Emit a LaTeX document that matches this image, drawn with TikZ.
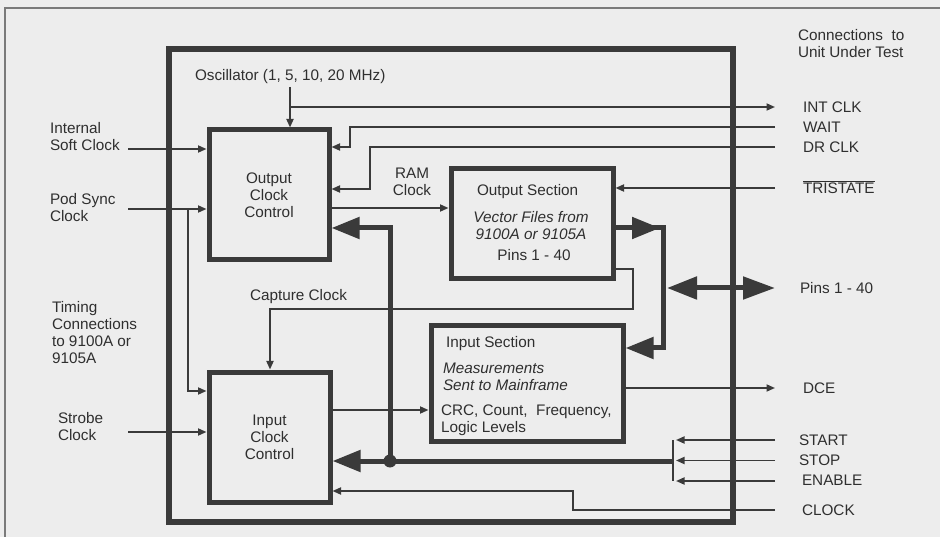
\documentclass[tikz,border=0pt]{standalone}
\usepackage{fontspec}
\setmainfont{Liberation Sans}
\usetikzlibrary{arrows.meta}
\definecolor{lc}{HTML}{3A3A3A}
\definecolor{tc}{HTML}{2F2F2F}
\definecolor{bgc}{HTML}{EDEDED}
\definecolor{fc}{HTML}{7A7A7A}
\begin{document}
\begin{tikzpicture}[x=1pt,y=-1pt,
  every node/.style={font=\fontsize{15.3}{17}\selectfont, text=tc, inner sep=0pt, outer sep=0pt},
  lblb/.style={anchor=base west},
  lbln/.style={anchor=north west, align=left},
  blk/.style={draw=lc, line width=5pt, inner sep=0pt, outer sep=2.5pt},
  thinln/.style={draw=lc, line width=1.8pt},
  tarr/.style={thinln, -{Triangle[length=8.5pt,width=7pt]}},
  thk/.style={draw=lc, line width=5pt},
  karr/.style={thk, -{Triangle[length=28pt,width=21pt]}},
]
\fill[bgc] (0,0) rectangle (940,537);
\useasboundingbox (0,0) rectangle (940,537);
\draw[fc, line width=1.3pt] (5,560) -- (5,8) -- (960,8);

% blocks
\node[blk, line width=5.5pt, outer sep=2.75pt, minimum width=564pt, minimum height=473pt] (main) at (451,285.5) {};
\node[blk, minimum width=120pt, minimum height=130pt, align=center] (occ) at (269,195) {Output\\Clock\\Control};
\node[blk, minimum width=121pt, minimum height=130pt, align=center] (icc) at (269.5,437) {Input\\Clock\\Control};
\node[blk, minimum width=162pt, minimum height=110pt] (os) at (532,224) {};
\node[blk, minimum width=192pt, minimum height=115pt] (is) at (527,383.5) {};

% texts in blocks
\node[lblb] (ost) at (477,195.4) {Output Section};
\node[anchor=north, align=center, font=\fontsize{15.3}{17}\selectfont\itshape] (osv) at (531,211.6) {Vector Files from\\9100A or 9105A};
\node[anchor=base] (osp) at (534,260.4) {Pins 1 - 40};
\node[lblb] (ist) at (446,347.4) {Input Section};
\node[lbln, font=\fontsize{15.3}{17}\selectfont\itshape] (ism) at (443,362.6) {Measurements\\Sent to Mainframe};
\node[lbln] (isc2) at (441,404.6) {CRC, Count,\ \ Frequency,\\Logic Levels};

% free labels
\node[lbln] (osc) at (195,69.6) {Oscillator (1, 5, 10, 20 MHz)};
\node[lbln] (conn) at (798,29.6) {Connections\ \ to\\Unit Under Test};
\node[anchor=north, align=center] (ram) at (412,167.6) {RAM\\Clock};
\node[lblb] (cap) at (250,300.4) {Capture Clock};
\node[lbln] (isc) at (50,122.6) {Internal\\Soft Clock};
\node[lbln] (pod) at (50,193.6) {Pod Sync\\Clock};
\node[lbln] (tim) at (52,301.6) {Timing\\Connections\\to 9100A or\\9105A};
\node[lbln] (stb) at (58,412.6) {Strobe\\Clock};

\node[lblb] (intclk) at (803,112.4) {INT CLK};
\node[lblb] (wait) at (803,132.4) {WAIT};
\node[lblb] (drclk) at (803,152.4) {DR CLK};
\node[lblb] (tri) at (803,193.4) {$\overline{\hbox{TRISTATE}}$};
\node[lblb] (pins) at (800,293.4) {Pins 1 - 40};
\node[lblb] (dce) at (803,393.4) {DCE};
\node[lblb] (start) at (799,445.4) {START};
\node[lblb] (stop) at (799,465.4) {STOP};
\node[lblb] (enable) at (802,485.4) {ENABLE};
\node[lblb] (clock) at (802,515.4) {CLOCK};

% coordinates
\coordinate (oscT) at (290,87);
\coordinate (intL) at (290,107);
\coordinate (intR) at (775,107);
\coordinate (wR) at (775,127);
\coordinate (w1) at (350,147);
\coordinate (dR) at (775,147);
\coordinate (d1) at (370,189);
\coordinate (tR) at (775,188);
\coordinate (ramY) at (400,208);
\coordinate (J) at (390,461);
\coordinate (k1) at (390,228);
\coordinate (busR) at (674,461);
\coordinate (vT) at (673,440);
\coordinate (vB) at (673,481);
\coordinate (stR) at (775,440);
\coordinate (stL) at (676,440);
\coordinate (spR) at (775,460.5);
\coordinate (spL) at (676,460.5);
\coordinate (enR) at (775,481);
\coordinate (enL) at (676,481);
\coordinate (clR) at (775,510);
\coordinate (c1) at (573,491);
\coordinate (dceR) at (775,388);
\coordinate (crcY) at (400,410);
\coordinate (cc0) at (640,269);
\coordinate (cc1) at (633,309);
\coordinate (cc2) at (270,309);
\coordinate (p1) at (663,228);
\coordinate (p1a) at (660,228);
\coordinate (p2) at (663,348);
\coordinate (pinsL) at (667,288);
\coordinate (pinsR) at (775,288);
\coordinate (iscS) at (128,149);
\coordinate (podS) at (128,209);
\coordinate (pb) at (188,209);
\coordinate (pb2) at (188,391);
\coordinate (strS) at (128,432);

% connectors
\draw[tarr] (oscT) -- (oscT |- occ.north);
\draw[tarr] (intL) -- (intR);
\draw[tarr] (wR) -| (w1) -- (occ.east |- w1);
\draw[tarr] (dR) -| (d1) -- (occ.east |- d1);
\draw[tarr] (tR) -- (os.east |- tR);
\draw[tarr] (occ.east |- ramY) -- (os.west |- ramY);
\draw[karr] (J) -- (k1) -- (occ.east |- k1);
\draw[karr] (busR) -- (icc.east |- busR);
\fill[lc] (J) circle[radius=6.5pt];
\draw[thinln] (vT) -- (vB);
\draw[tarr] (stR) -- (stL);
\draw[tarr] (spR) -- (spL);
\draw[tarr] (enR) -- (enL);
\draw[tarr] (clR) -| (c1) -- (icc.east |- c1);
\draw[tarr] (is.east |- dceR) -- (dceR);
\draw[tarr] (icc.east |- crcY) -- (is.west |- crcY);
\draw[tarr] (os.east |- cc0) -| (cc1) -- (cc2) -- (cc2 |- icc.north);
\draw[karr] (os.east |- p1) -- (p1) -- (p2) -- (is.east |- p2);
\draw[karr] (os.east |- p1) -- (p1a);
\draw[thk, {Triangle[length=30pt,width=22pt]}-{Triangle[length=32pt,width=22pt]}] (pinsL) -- (pinsR);
\draw[tarr] (iscS) -- (occ.west |- iscS);
\draw[tarr] (podS) -- (occ.west |- podS);
\draw[tarr] (pb) -- (pb2) -- (icc.west |- pb2);
\draw[tarr] (strS) -- (icc.west |- strS);
\end{tikzpicture}
\end{document}
